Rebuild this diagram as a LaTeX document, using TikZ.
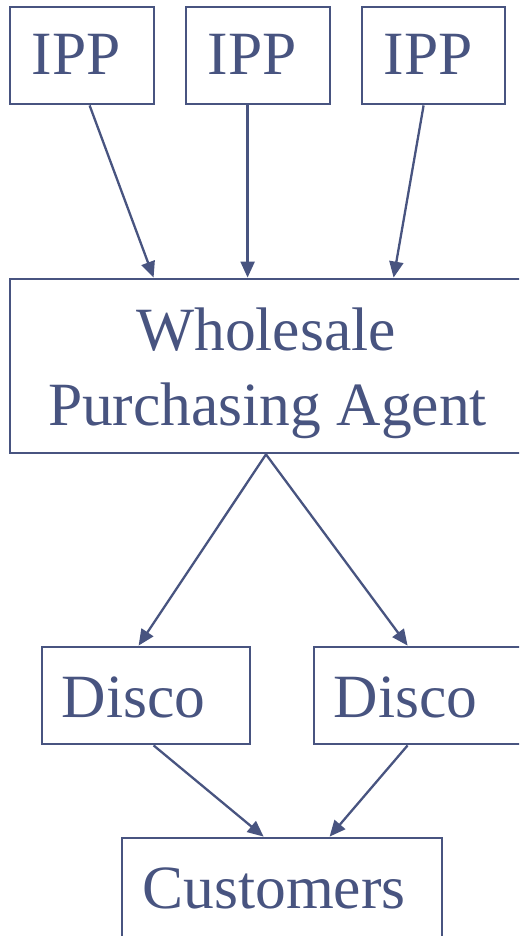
\documentclass[tikz,border=0pt]{standalone}
\usepackage{fontspec}
\setmainfont{Liberation Serif}
\usetikzlibrary{arrows.meta,calc}
\definecolor{ink}{RGB}{72,84,128}
\begin{document}
\begin{tikzpicture}[x=1pt,y=-1pt,
  box/.style={draw=ink,line width=2.8pt,rectangle,inner sep=0pt},
  lbl/.style={text=ink,inner sep=0pt,anchor=base,font=\fontsize{61.5}{75}\selectfont},
  arr/.style={draw=ink,line width=2.3pt,-{Triangle[width=14pt,length=16pt]}}]
\useasboundingbox (0,0) rectangle (519,936);
\clip (0,0) rectangle (519,936);
% boxes
\node[box,minimum width=144pt,minimum height=97pt] (ipp1) at (82,55.5) {};
\node[box,minimum width=144pt,minimum height=97pt] (ipp2) at (258,55.5) {};
\node[box,minimum width=143pt,minimum height=97pt] (ipp3) at (433.5,55.5) {};
\node[box,minimum width=512pt,minimum height=174pt] (wpa) at (266,366) {};
\node[box,minimum width=208pt,minimum height=97pt] (disco1) at (146,695.5) {};
\node[box,minimum width=208pt,minimum height=97pt] (disco2) at (418,695.5) {};
\node[box,minimum width=320pt,minimum height=99pt] (cust) at (282,887.5) {};
% labels
\node[lbl] (t1) at (76,75) {IPP};
\node[lbl] (t2) at (252,75) {IPP};
\node[lbl] (t3) at (428,75) {IPP};
\node[lbl] (t4) at (266,350) {Wholesale};
\node[lbl] (t5) at (267.5,425) {Purchasing Agent};
\node[lbl] (t6) at (133.5,717) {Disco};
\node[lbl] (t7) at (405.5,717) {Disco};
\node[lbl] (t8) at (274,908) {Customers};
% connectors
\draw[arr] ($(ipp1.south west)+(81,0)$) -- ($(wpa.north west)+(145,0)$);
\draw[arr] ($(ipp2.south west)+(63,0)$) -- ($(wpa.north west)+(239,0)$);
\draw[arr] ($(ipp3.south west)+(63,0)$) -- ($(wpa.north west)+(385,0)$);
\draw[arr] (wpa.south) -- ($(disco1.north west)+(98,0)$);
\draw[arr] (wpa.south) -- ($(disco2.north west)+(95,0)$);
\draw[arr] ($(disco1.south west)+(113,0)$) -- ($(cust.north west)+(143,0)$);
\draw[arr] ($(disco2.south west)+(95,0)$) -- ($(cust.north west)+(209,0)$);
\end{tikzpicture}
\end{document}
